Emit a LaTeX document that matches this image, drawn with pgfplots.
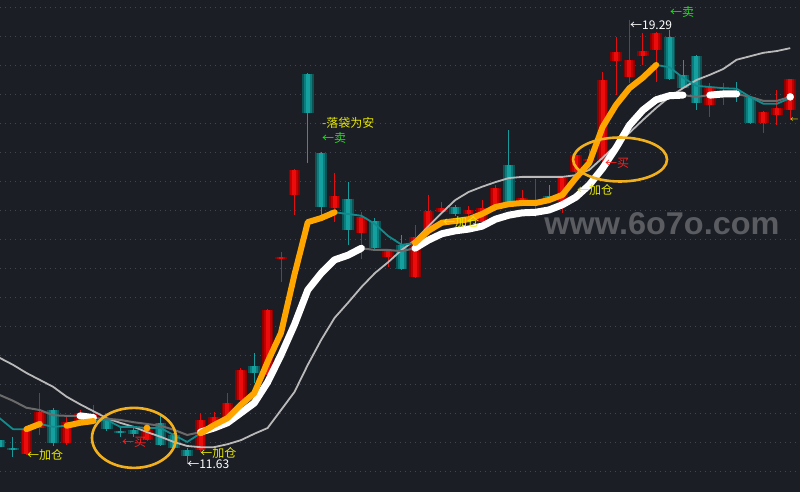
\documentclass[border=0pt]{standalone}
\usepackage{pgfplots}
\pgfplotsset{compat=1.18}
\usepackage{pgfplotstable}
\usepackage{fontspec}
\usepackage{graphicx}
\newfontfamily\cjk{Noto Sans CJK SC}
\newfontfamily\wmfont{Liberation Sans}
\newcommand\cjkf{\cjk\fontsize{12bp}{12bp}\selectfont}

\definecolor{bgc}{HTML}{1B1E25}
\definecolor{gridc}{HTML}{40454F}
\definecolor{redA}{HTML}{8E0000}
\definecolor{redB}{HTML}{C00000}
\definecolor{redC}{HTML}{EC0C0C}
\definecolor{redW}{HTML}{E01010}
\definecolor{tealA}{HTML}{0B5456}
\definecolor{tealB}{HTML}{0E7B7D}
\definecolor{tealC}{HTML}{15A0A0}
\definecolor{tealW}{HTML}{1A9A9A}
\definecolor{maS}{HTML}{138A8C}
\definecolor{maM}{HTML}{6A6A6A}
\definecolor{maL}{HTML}{B9B9B9}
\definecolor{orng}{HTML}{FFA500}
\definecolor{ring}{HTML}{F2B01E}
\definecolor{yel}{HTML}{E8E800}
\definecolor{grn}{HTML}{1EE01E}
\definecolor{buy}{HTML}{FF2020}
\definecolor{wmc}{HTML}{5A5C61}

% candles: index, open, high, low, close
\pgfplotstableread{
i o h l c
1 11.80 12.25 11.79 12.22
2 12.25 12.85 12.13 12.53
4 11.99 12.47 11.96 12.35
5 12.35 12.56 12.32 12.51
6 12.42 12.65 12.39 12.49
10 12.04 12.27 12.03 12.25
14 11.87 12.51 11.84 12.39
15 12.27 12.53 12.23 12.44
16 12.44 12.85 12.42 12.68
17 12.73 13.29 12.70 13.25
19 13.16 14.30 13.15 14.29
20 15.16 15.29 14.77 15.20
21 16.27 16.72 15.92 16.70
24 16.04 16.65 15.80 16.25
26 15.61 15.97 15.16 15.89
28 15.20 15.32 15.03 15.30
30 14.85 15.75 14.84 15.54
31 15.65 16.27 15.63 15.99
32 15.97 16.15 15.94 16.04
34 15.94 16.08 15.87 16.01
35 15.80 16.18 15.77 16.04
36 16.06 16.44 16.04 16.39
38 16.13 16.35 16.10 16.22
39 16.10 16.54 15.89 16.18
41 16.15 16.60 15.96 16.56
42 16.66 16.99 16.63 16.96
43 16.85 17.06 16.70 16.89
44 16.87 18.39 16.84 18.25
45 18.58 18.99 17.99 18.73
46 18.30 19.29 18.20 18.60
47 18.66 19.06 18.51 18.75
48 18.77 19.08 18.22 19.06
52 17.82 18.20 17.61 18.13
53 17.98 18.20 17.82 18.04
56 17.51 17.72 17.34 17.70
57 17.65 18.08 17.47 17.77
58 17.73 18.27 17.56 18.27
}\upbars

\pgfplotstableread{
i o h l c
-1 12.04 12.08 11.89 11.92
0 11.91 12.10 11.75 11.87
3 12.56 12.60 11.94 11.99
7 12.39 12.42 12.20 12.23
8 12.20 12.27 12.10 12.16
9 12.22 12.29 12.10 12.15
11 12.34 12.47 11.94 11.96
12 12.13 12.16 11.89 11.91
13 11.87 11.91 11.63 11.77
18 13.32 13.54 13.03 13.20
22 18.35 18.37 16.82 17.68
23 16.99 17.01 15.89 16.06
25 16.20 16.49 15.41 15.66
27 15.82 15.87 15.34 15.35
29 15.41 15.58 14.97 14.99
33 16.06 16.10 15.91 15.94
37 16.79 17.39 16.13 16.15
40 16.25 16.44 16.16 16.18
49 18.99 19.11 18.25 18.27
50 18.34 18.60 18.10 18.11
51 18.66 18.68 17.73 17.85
54 18.04 18.22 17.87 17.98
55 17.96 17.98 17.49 17.51
}\downbars

\pgfplotsset{
  candle/.style 2 args={only marks, mark=none, mark size=0pt,
    mark options={draw=none, fill=none}, forget plot,
    error bars/y dir=plus, error bars/y explicit, error bars/error mark=none,
    error bars/error bar style={line width=#2, color=#1, line cap=butt}}
}
\tikzset{note/.style={anchor=west, inner sep=0pt, font=\cjkf}}

\begin{document}
\begin{tikzpicture}
\begin{axis}[
    width=800bp, height=492bp, scale only axis,
    xmin=-0.97, xmax=58.73, ymin=11.147, ymax=19.63,
    axis line style={draw=none}, tick style={draw=none},
    xtick=\empty,
    ytick={11.51,12.01,12.51,13.01,13.51,14.01,14.51,15.01,15.51,16.01,16.51,17.01,17.51,18.01,18.51,19.01,19.51},
    yticklabels={},
    ymajorgrids, grid style={gridc, line width=0.8bp, dash pattern=on 1bp off 4bp},
    axis background/.style={fill=bgc},
]
% wicks
\addplot[candle={redW}{1bp}] table[x=i, y=l, y error expr=\thisrow{h}-\thisrow{l}] {\upbars};
\addplot[candle={tealW}{1bp}] table[x=i, y=l, y error expr=\thisrow{h}-\thisrow{l}] {\downbars};
% bodies
\addplot[candle={redA}{11.5bp}] table[x=i, y=o, y error expr=\thisrow{c}-\thisrow{o}] {\upbars};
\addplot[candle={redB}{8bp}] table[x=i, y=o, y error expr=\thisrow{c}-\thisrow{o}] {\upbars};
\addplot[candle={redC}{4bp}] table[x=i, y=o, y error expr=\thisrow{c}-\thisrow{o}] {\upbars};
\addplot[candle={tealA}{11.5bp}] table[x=i, y=c, y error expr=\thisrow{o}-\thisrow{c}] {\downbars};
\addplot[candle={tealB}{8bp}] table[x=i, y=c, y error expr=\thisrow{o}-\thisrow{c}] {\downbars};
\addplot[candle={tealC}{4bp}] table[x=i, y=c, y error expr=\thisrow{o}-\thisrow{c}] {\downbars};

% long average
\addplot[maL, line width=1.8bp, mark=none] coordinates {
(-1,13.46) (0,13.34) (1,13.20) (2,13.08) (3,12.96) (4,12.79) (5,12.66) (6,12.54)
(7,12.42) (8,12.34) (9,12.27) (10,12.18) (11,12.10) (12,12.01) (13,11.94) (14,11.92)
(15,11.92) (16,11.97) (17,12.04) (18,12.15) (19,12.25) (20,12.56) (21,12.87) (22,13.34)
(23,13.77) (24,14.15) (25,14.41) (26,14.68) (27,14.92) (28,15.11) (29,15.32) (30,15.49)
(31,15.73) (32,15.96) (33,16.18) (34,16.32) (35,16.41) (36,16.49) (37,16.56) (38,16.58)
(39,16.58) (40,16.58) (41,16.58) (42,16.61) (43,16.70) (44,16.91) (45,17.13) (46,17.34)
(47,17.56) (48,17.77) (49,17.96) (50,18.11) (51,18.25) (52,18.34) (53,18.44) (54,18.60)
(55,18.66) (56,18.72) (57,18.75) (58,18.80)};
% middle average
\addplot[maM, line width=2bp, mark=none] coordinates {
(-1,12.82) (0,12.72) (1,12.60) (2,12.56) (3,12.47) (4,12.46) (5,12.46) (6,12.42)
(7,12.41) (8,12.39) (9,12.35) (10,12.32) (11,12.29) (12,12.22) (13,12.13) (14,12.18)
(15,12.25) (16,12.34) (17,12.51) (18,12.68) (19,13.04) (20,13.51) (21,14.03) (22,14.63)
(23,14.92) (24,15.15) (25,15.23) (26,15.35) (27,15.32) (28,15.32) (29,15.30) (30,15.35)
(31,15.49) (32,15.60) (33,15.65) (34,15.68) (35,15.73) (36,15.85) (37,15.92) (38,15.96)
(39,15.97) (40,16.01) (41,16.10) (42,16.23) (43,16.44) (44,16.73) (45,17.08) (46,17.47)
(47,17.73) (48,17.91) (49,17.98) (50,17.99) (51,17.96) (52,17.99) (53,18.01) (54,18.01)
(55,17.96) (56,17.89) (57,17.89) (58,17.96)};
% short average
\addplot[maS, line width=1.8bp, mark=none] coordinates {
(-1,12.42) (0,12.23) (1,12.23) (2,12.32) (3,12.27) (4,12.29) (5,12.34) (6,12.37)
(7,12.39) (8,12.27) (9,12.27) (10,12.25) (11,12.25) (12,12.13) (13,12.01) (14,12.16)
(15,12.30) (16,12.42) (17,12.65) (18,12.85) (19,13.39) (20,13.89) (21,14.89) (22,15.80)
(23,15.87) (24,15.97) (25,15.94) (26,15.91) (27,15.77) (28,15.56) (29,15.41) (30,15.44)
(31,15.65) (32,15.79) (33,15.82) (34,15.85) (35,15.94) (36,16.06) (37,16.11) (38,16.13)
(39,16.13) (40,16.18) (41,16.27) (42,16.56) (43,16.82) (44,17.44) (45,17.82) (46,18.11)
(47,18.29) (48,18.51) (49,18.47) (50,18.29) (51,18.15) (52,18.13) (53,18.11) (54,18.10)
(55,17.96) (56,17.84) (57,17.84) (58,17.94)};

% white segments on the middle average
\addplot[white, mark=none, line width=7bp, line cap=round, line join=round] coordinates {(5,12.46) (6,12.43)};
\addplot[white, mark=none, line width=7bp, line cap=round, line join=round] coordinates {
(14,12.18) (15,12.25) (16,12.34) (17,12.51) (18,12.68) (19,13.04) (20,13.51)
(21,14.03) (22,14.63) (23,14.92) (24,15.15) (25,15.23) (26,15.35)};
\addplot[white, mark=none, line width=7bp, line cap=round, line join=round] coordinates {
(30,15.35) (31,15.49) (32,15.60) (33,15.65) (34,15.68) (35,15.73) (36,15.85)
(37,15.92) (38,15.96) (39,15.97) (40,16.01) (41,16.10) (42,16.23) (43,16.44)
(44,16.73) (45,17.08) (46,17.47) (47,17.73) (48,17.91) (49,17.98) (50,17.99)};
\addplot[white, mark=none, line width=7bp, line cap=round, line join=round] coordinates {(52,17.99) (53,18.01) (54,18.01)};
\addplot[white, only marks, mark=*, mark size=3.5bp] coordinates {(58,17.96)};

% orange segments on the short average
\addplot[orng, mark=none, line width=6bp, line cap=round, line join=round] coordinates {(1,12.23) (2,12.32)};
\addplot[orng, mark=none, line width=6bp, line cap=round, line join=round] coordinates {(4,12.29) (5,12.34) (6,12.37)};
\addplot[orng, mark=none, line width=6bp, line cap=round, line join=round] coordinates {
(14,12.16) (15,12.30) (16,12.42) (17,12.65) (18,12.85) (19,13.39) (20,13.89)
(21,14.89) (22,15.80) (23,15.87) (24,15.97)};
\addplot[orng, mark=none, line width=6bp, line cap=round, line join=round] coordinates {
(30,15.44) (31,15.65) (32,15.79) (33,15.82) (34,15.85) (35,15.94) (36,16.06)
(37,16.11) (38,16.13) (39,16.13) (40,16.18) (41,16.27) (42,16.56) (43,16.82)
(44,17.44) (45,17.82) (46,18.11) (47,18.29) (48,18.51)};
\addplot[orng, only marks, mark=*, mark size=3.2bp] coordinates {(10,12.25)};

% circles round the buy signals
\draw[ring, line width=2.6bp] (axis cs:9.03,12.08) ellipse [x radius=42bp, y radius=30bp];
\draw[ring, line width=2.6bp] (axis cs:45.30,16.88) ellipse [x radius=47bp, y radius=22bp];

% signal texts
\node[note, text=yel] at (axis cs:1.04,11.79) {←加仓};
\node[note, text=buy] at (axis cs:8.13,12.01) {←买};
\node[note, text=yel] at (axis cs:13.96,11.82) {←加仓};
\node[note, text=white] at (axis cs:12.99,11.63) {←11.63};
\node[note, text=yel] at (axis cs:23.06,17.51) {-落袋为安};
\node[note, text=grn] at (axis cs:23.06,17.25) {←卖};
\node[note, text=yel] at (axis cs:32.09,15.80) {←加仓};
\node[note, text=buy] at (axis cs:44.18,16.82) {←买};
\node[note, text=yel] at (axis cs:42.09,16.35) {←加仓};
\node[note, text=white] at (axis cs:46.04,19.20) {←19.29};
\node[note, text=grn] at (axis cs:49.03,19.42) {←卖};
\node[note, text=yel, font=\cjk\fontsize{8bp}{8bp}\selectfont] at (axis cs:58.0,17.56) {←};

% watermark
\node[text=wmc, inner sep=0pt] at (axis cs:48.43,15.77)
  {\resizebox{235bp}{22bp}{\wmfont\bfseries www.6o7o.com}};
\end{axis}
\pgfresetboundingbox
\path[use as bounding box] (current axis.south west) rectangle (current axis.north east);
\end{tikzpicture}
\end{document}
